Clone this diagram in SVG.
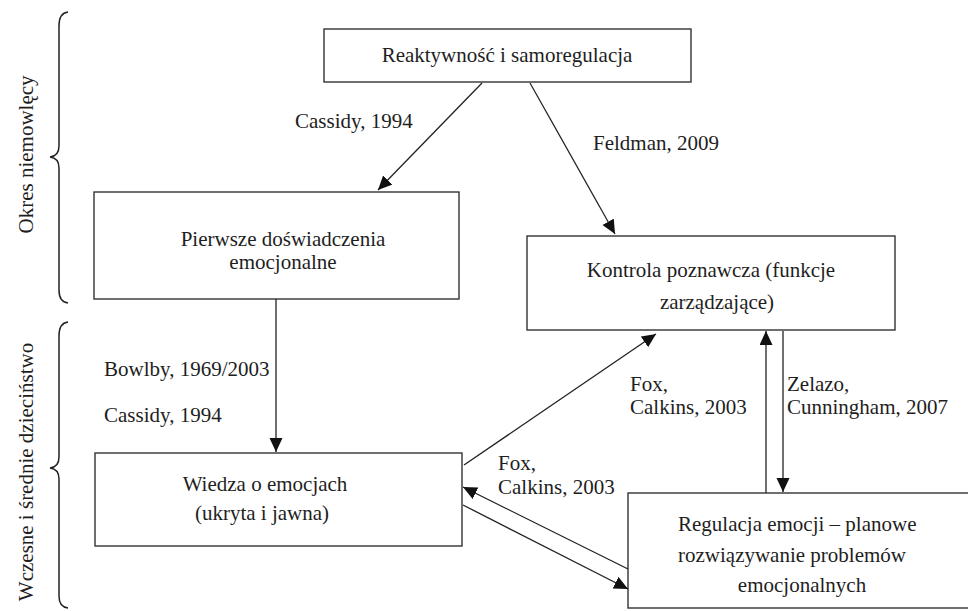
<svg xmlns="http://www.w3.org/2000/svg" width="968" height="611" viewBox="0 0 968 611">
<style>
.box{fill:#fff;stroke:#333;stroke-width:1.4}
text{font-family:'Liberation Serif','Times New Roman',Tinos,'DejaVu Serif',serif;font-size:21px;fill:#1e1e1e}
.m{text-anchor:middle}
.c{fill:none;stroke:#222;stroke-width:1.3}
.br{fill:none;stroke:#222;stroke-width:1.5}
</style>
<defs>
<marker id="ah" markerUnits="userSpaceOnUse" markerWidth="16" markerHeight="14" refX="14" refY="6.5" orient="auto">
<path d="M0,0 L14,6.5 L0,13 z" fill="#111"/>
</marker>
</defs>
<rect width="968" height="611" fill="#fff"/>

<g font-family="Liberation Serif, Times New Roman, serif" font-size="21">
<g id="bracket-infancy">
<path class="br" d="M68,12 Q59,13 59,26 L59,146 Q59,156 50,157 Q59,158 59,168 L59,290 Q59,302 68,303"/>
<text class="m" transform="translate(33,154.5) rotate(-90)">Okres niemowlęcy</text>
</g>
<g id="bracket-childhood">
<path class="br" d="M68,322 Q59,323 59,336 L59,457 Q59,467 50,468 Q59,469 59,479 L59,596 Q59,607 68,608"/>
<text class="m" transform="translate(33,472) rotate(-90)">Wczesne i średnie dzieciństwo</text>
</g>

<g id="node-reaktywnosc">
<rect class="box" x="324" y="29" width="367" height="53"/>
<text class="m" x="507" y="62">Reaktywność i samoregulacja</text>
</g>
<g id="node-pierwsze">
<rect class="box" x="94" y="192" width="365" height="107"/>
<text class="m" x="283" y="246">Pierwsze doświadczenia</text>
<text class="m" x="283" y="269">emocjonalne</text>
</g>
<g id="node-kontrola">
<rect class="box" x="527" y="236" width="368" height="94"/>
<text class="m" x="711" y="277">Kontrola poznawcza (funkcje</text>
<text class="m" x="717" y="309">zarządzające)</text>
</g>
<g id="node-wiedza">
<rect class="box" x="95" y="453" width="367" height="93"/>
<text class="m" x="265" y="491">Wiedza o emocjach</text>
<text class="m" x="262" y="520">(ukryta i jawna)</text>
</g>
<g id="node-regulacja">
<rect class="box" x="628" y="493" width="360" height="115"/>
<text x="678" y="531">Regulacja emocji – planowe</text>
<text x="678" y="562">rozwiązywanie problemów</text>
<text class="m" x="802" y="592">emocjonalnych</text>
</g>

<g id="connectors">
<line class="c" x1="482" y1="83" x2="378" y2="190" marker-end="url(#ah)"/>
<line class="c" x1="530" y1="83" x2="615" y2="234" marker-end="url(#ah)"/>
<line class="c" x1="276" y1="299" x2="276" y2="452" marker-end="url(#ah)"/>
<line class="c" x1="464" y1="465" x2="656" y2="334" marker-end="url(#ah)"/>
<line class="c" x1="628" y1="569" x2="463" y2="487" marker-end="url(#ah)"/>
<line class="c" x1="463" y1="505" x2="628" y2="589" marker-end="url(#ah)"/>
<line class="c" x1="766" y1="493" x2="766" y2="331" marker-end="url(#ah)"/>
<line class="c" x1="783" y1="331" x2="783" y2="492" marker-end="url(#ah)"/>
</g>

<g id="labels">
<text x="295" y="128">Cassidy, 1994</text>
<text x="593" y="150">Feldman, 2009</text>
<text x="104" y="376">Bowlby, 1969/2003</text>
<text x="104" y="422">Cassidy, 1994</text>
<text x="630" y="391">Fox,</text>
<text x="630" y="414">Calkins, 2003</text>
<text x="787" y="391">Zelazo,</text>
<text x="787" y="414">Cunningham, 2007</text>
<text x="498" y="470">Fox,</text>
<text x="498" y="494">Calkins, 2003</text>
</g>
</g>
</svg>
